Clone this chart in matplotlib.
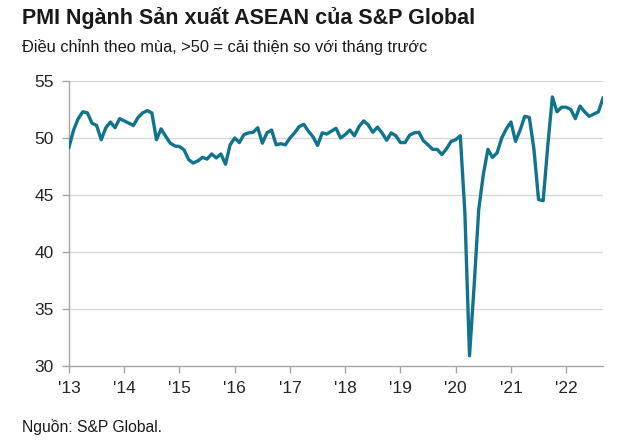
import matplotlib
matplotlib.use("Agg")
import matplotlib.pyplot as plt

plt.rcParams['font.family'] = ['Liberation Sans', 'DejaVu Sans']

# Monthly PMI values, Jan 2013 - Sep 2022
pmi_2013 = [49.2, 50.7, 51.7, 52.3, 52.2, 51.3, 51.1, 49.85, 50.9, 51.4, 50.9, 51.7]
pmi_2014 = [51.5, 51.3, 51.1, 51.8, 52.2, 52.4, 52.2, 49.85, 50.8, 50.15, 49.55, 49.3]
pmi_2015 = [49.25, 48.95, 48.1, 47.8, 48.0, 48.3, 48.15, 48.6, 48.25, 48.6, 47.7, 49.4]
pmi_2016 = [50.0, 49.6, 50.3, 50.45, 50.5, 50.9, 49.55, 50.45, 50.7, 49.4, 49.5, 49.4]
pmi_2017 = [50.0, 50.45, 51.0, 51.2, 50.6, 50.1, 49.35, 50.45, 50.35, 50.6, 50.85, 50.0]
pmi_2018 = [50.3, 50.7, 50.2, 51.0, 51.5, 51.15, 50.5, 50.95, 50.45, 49.8, 50.45, 50.2]
pmi_2019 = [49.6, 49.6, 50.25, 50.45, 50.5, 49.75, 49.4, 49.0, 49.0, 48.55, 49.05, 49.7]
pmi_2020 = [49.85, 50.2, 43.4, 30.9, 37.0, 43.7, 46.8, 49.0, 48.3, 48.7, 50.0, 50.8]
pmi_2021 = [51.4, 49.7, 50.7, 51.9, 51.8, 49.0, 44.6, 44.5, 49.3, 53.6, 52.3, 52.7]
pmi_2022 = [52.7, 52.5, 51.7, 52.8, 52.3, 51.9, 52.1, 52.3, 53.5]

pmi = pmi_2013 + pmi_2014 + pmi_2015 + pmi_2016 + pmi_2017 + pmi_2018 + pmi_2019 + pmi_2020 + pmi_2021 + pmi_2022
months = list(range(len(pmi)))

year_labels = ["'13", "'14", "'15", "'16", "'17", "'18", "'19", "'20", "'21", "'22"]
year_ticks = [12 * i for i in range(len(year_labels))]
y_ticks = [30, 35, 40, 45, 50, 55]

title = "PMI Ngành Sản xuất ASEAN của S&P Global"
subtitle = "Điều chỉnh theo mùa, >50 = cải thiện so với tháng trước"
source = "Nguồn: S&P Global."

fig = plt.figure(figsize=(6.3, 4.42), dpi=100)
ax = fig.add_axes([69 / 630, 1 - 366 / 442, (603 - 69) / 630, (366 - 81) / 442])

for yv in y_ticks[1:]:
    ax.axhline(yv, color='#d9d9d9', lw=1.0, zorder=1)

ax.plot(months, pmi, color='#12738d', lw=2.4, solid_joinstyle='round', zorder=3)

ax.set_xlim(0, len(pmi) - 1)
ax.set_ylim(30, 55)
ax.set_yticks(y_ticks)
ax.set_xticks(year_ticks)
ax.set_xticklabels(year_labels)

for s in ['top', 'right']:
    ax.spines[s].set_visible(False)
for s in ['left', 'bottom']:
    ax.spines[s].set_color('#a6a6a6')
    ax.spines[s].set_linewidth(1.0)

ax.tick_params(axis='both', colors='#a6a6a6', labelcolor='#262626', labelsize=12.5, length=5, width=1.0)
ax.tick_params(axis='y', pad=6)
ax.tick_params(axis='x', pad=6)

fig.text(22 / 630, 1 - 18 / 442, title, fontsize=15.5, fontweight='bold', color='#1a1a1a', va='center', ha='left')
fig.text(22 / 630, 1 - 47 / 442, subtitle, fontsize=11.8, color='#1a1a1a', va='center', ha='left')
fig.text(22 / 630, 1 - 427 / 442, source, fontsize=11.3, color='#1a1a1a', va='center', ha='left')

fig.savefig('out.png', dpi=100)
